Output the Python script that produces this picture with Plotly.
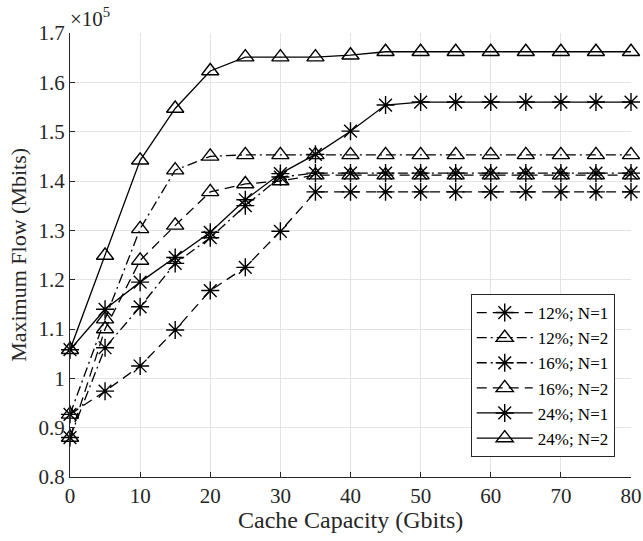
import plotly.graph_objects as go

cache = [0, 5, 10, 15, 20, 25, 30, 35, 40, 45, 50, 55, 60, 65, 70, 75, 80]

flow_12_n1 = [0.927, 0.974, 1.025, 1.098, 1.178, 1.225, 1.298, 1.378, 1.378, 1.378, 1.378, 1.378, 1.378, 1.378, 1.378, 1.378, 1.378]
flow_12_n2 = [0.927, 1.120, 1.303, 1.422, 1.450, 1.453, 1.453, 1.453, 1.453, 1.453, 1.453, 1.453, 1.453, 1.453, 1.453, 1.453, 1.453]
flow_16_n1 = [0.880, 1.062, 1.145, 1.233, 1.285, 1.350, 1.408, 1.416, 1.416, 1.416, 1.416, 1.416, 1.416, 1.416, 1.416, 1.416, 1.416]
flow_16_n2 = [0.880, 1.100, 1.239, 1.310, 1.378, 1.394, 1.400, 1.412, 1.412, 1.412, 1.412, 1.412, 1.412, 1.412, 1.412, 1.412, 1.412]
flow_24_n1 = [1.058, 1.140, 1.195, 1.245, 1.296, 1.362, 1.415, 1.454, 1.501, 1.554, 1.560, 1.560, 1.560, 1.560, 1.560, 1.560, 1.560]
flow_24_n2 = [1.058, 1.249, 1.442, 1.547, 1.623, 1.651, 1.651, 1.651, 1.655, 1.662, 1.662, 1.662, 1.662, 1.662, 1.662, 1.662, 1.662]

names = ["12%; N=1", "12%; N=2", "16%; N=1", "16%; N=2", "24%; N=1", "24%; N=2"]
series = [flow_12_n1, flow_12_n2, flow_16_n1, flow_16_n2, flow_24_n1, flow_24_n2]
dashes = ["10px,6px", "10px,4px,2px,4px", "10px,4px,2px,4px", "10px,6px", "solid", "solid"]
symbols = ["asterisk-open", "triangle-up-open", "asterisk-open", "triangle-up-open", "asterisk-open", "triangle-up-open"]

y_ticks = [0.8, 0.9, 1.0, 1.1, 1.2, 1.3, 1.4, 1.5, 1.6, 1.7]
y_tick_labels = ["0.8", "0.9", "1", "1.1", "1.2", "1.3", "1.4", "1.5", "1.6", "1.7"]
x_ticks = [0, 10, 20, 30, 40, 50, 60, 70, 80]

x_title = "Cache Capacity (Gbits)"
y_title = "Maximum Flow (Mbits)"

FONT = "Times New Roman, Liberation Serif, Times, serif"
TXT = "#262626"

fig = go.Figure()
for name, ys, d, s in zip(names, series, dashes, symbols):
    fig.add_trace(go.Scatter(
        x=cache, y=ys, name=name, mode="lines+markers", cliponaxis=False,
        line=dict(color="black", width=1.3, dash=d),
        marker=dict(symbol=s, size=15, color="black", line=dict(color="black", width=1.4)),
    ))

fig.update_layout(
    width=643, height=541,
    margin=dict(l=70, r=12, t=33, b=64),
    paper_bgcolor="white", plot_bgcolor="white",
    font=dict(family=FONT, size=21, color=TXT),
    showlegend=True,
    legend=dict(
        x=0.971, y=0.045, xanchor="right", yanchor="bottom",
        bgcolor="white", bordercolor=TXT, borderwidth=1,
        font=dict(family=FONT, size=17, color="black"),
        tracegroupgap=0, itemwidth=56,
    ),
    xaxis=dict(
        range=[0, 80], tickvals=x_ticks, ticks="inside", ticklen=5, automargin=False,
        tickcolor=TXT, showline=True, linecolor=TXT, linewidth=1,
        showgrid=True, gridcolor="#e3e3e3", gridwidth=1, zeroline=False,
        tickfont=dict(family=FONT, size=21),
    ),
    yaxis=dict(
        range=[0.8, 1.7], tickvals=y_ticks, ticktext=y_tick_labels, ticks="inside", ticklen=5, automargin=False,
        tickcolor=TXT, showline=True, linecolor=TXT, linewidth=1,
        showgrid=True, gridcolor="#e3e3e3", gridwidth=1, zeroline=False,
        tickfont=dict(family=FONT, size=21),
    ),
)

fig.add_annotation(
    text=x_title, xref="paper", yref="paper", x=0.5, y=-0.097,
    xanchor="center", yanchor="middle", showarrow=False,
    font=dict(family=FONT, size=24, color=TXT),
)
fig.add_annotation(
    text=y_title, xref="paper", yref="paper", x=-0.093, y=0.5, textangle=-90,
    xanchor="center", yanchor="middle", showarrow=False,
    font=dict(family=FONT, size=22, color=TXT),
)
fig.add_annotation(
    text="×10<sup>5</sup>", xref="paper", yref="paper", x=0.0, y=1.0,
    xanchor="left", yanchor="bottom", showarrow=False,
    font=dict(family=FONT, size=21, color=TXT), xshift=-2, yshift=0,
)

fig.write_html(
    "out.html",
    config={"displayModeBar": False},
    post_script="document.body.style.margin='0';document.body.style.overflow='hidden';",
)
